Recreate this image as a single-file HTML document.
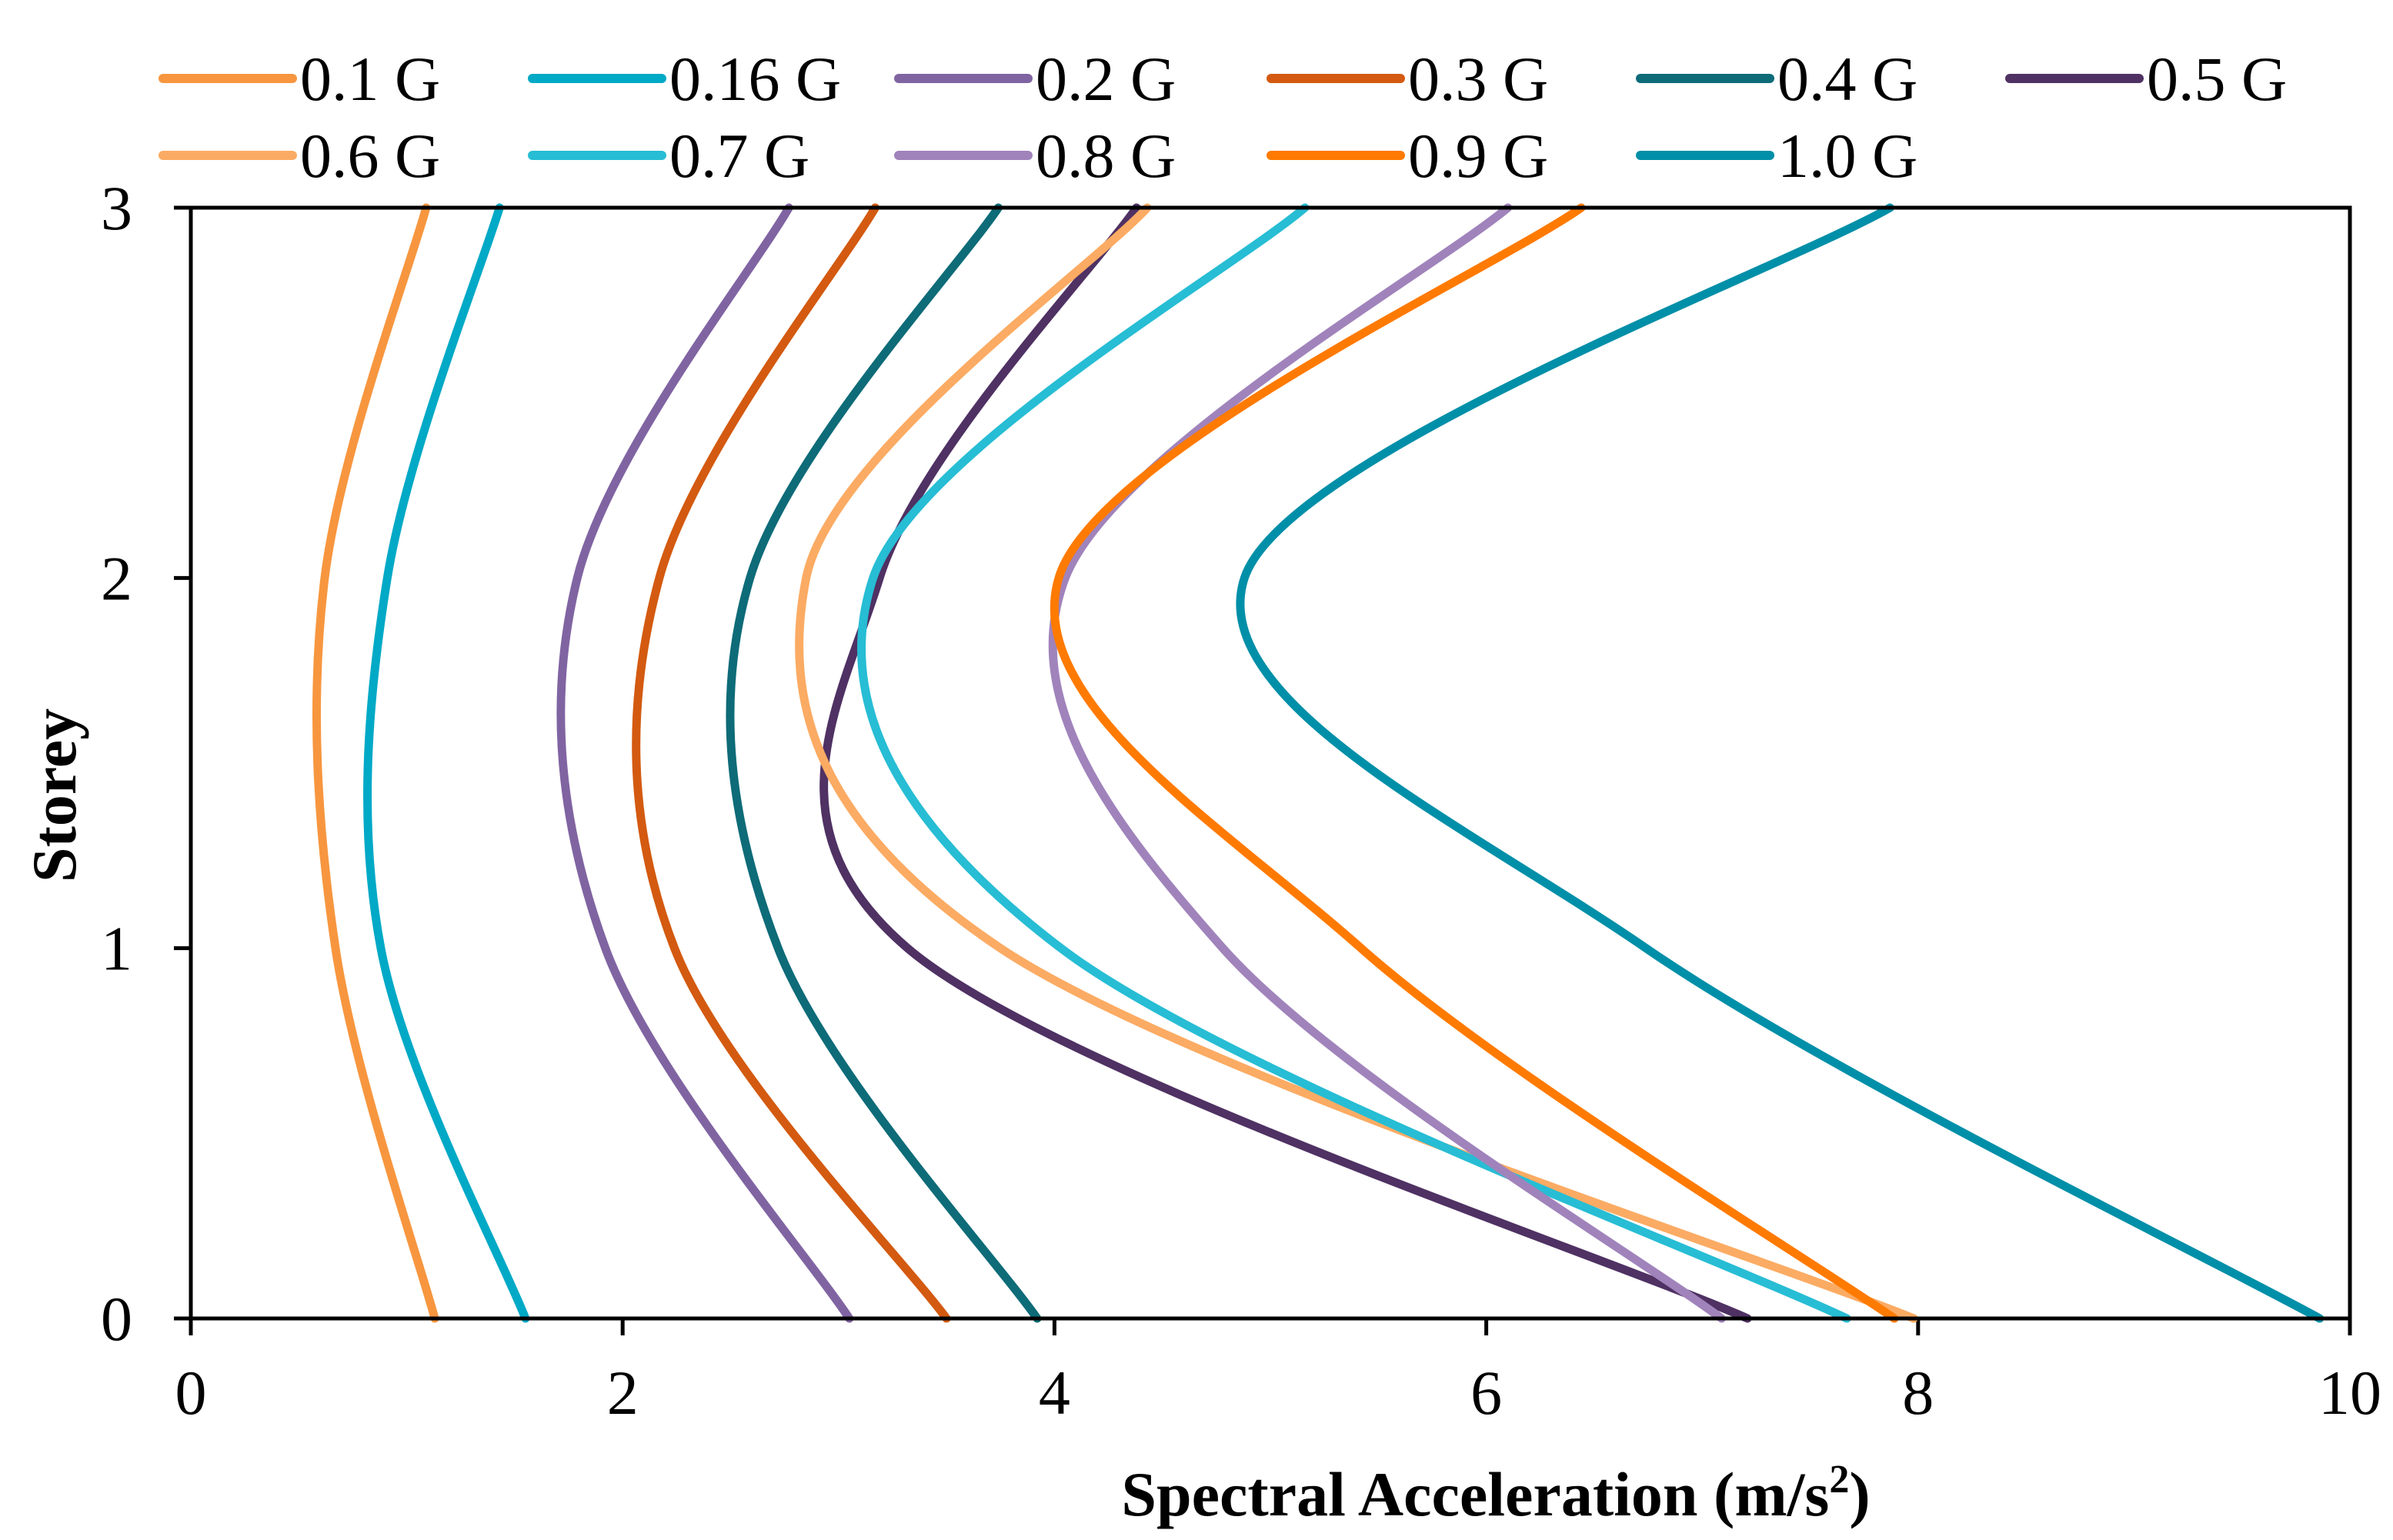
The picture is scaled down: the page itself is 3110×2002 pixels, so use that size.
<!DOCTYPE html>
<html><head><meta charset="utf-8">
<style>
html,body{margin:0;padding:0;background:#fff;}
svg{display:block;font-family:"Liberation Serif",serif;}
</style></head>
<body>
<svg id="chart" width="3110" height="2002" viewBox="0 0 3110 2002" xmlns="http://www.w3.org/2000/svg">
<g id="legend"></g>
<g id="grid"></g>
<g id="series"></g>
<rect x="248" y="270" width="2806" height="1444" fill="none" stroke="#000" stroke-width="5"/>
<text x="1944" y="1970" font-size="82" font-weight="bold" text-anchor="middle">Spectral Acceleration (m/s<tspan font-size="52" dy="-30">2</tspan><tspan dy="30">)</tspan></text>
<text transform="translate(98,1034) rotate(-90)" font-size="82" font-weight="bold" text-anchor="middle">Storey</text>
</svg>
<script>
const storeys = [0, 1, 2, 3];
const seriesNames = ["0.1 G","0.16 G","0.2 G","0.3 G","0.4 G","0.5 G","0.6 G","0.7 G","0.8 G","0.9 G","1.0 G"];
const s01 = [1.13, 0.67, 0.62, 1.09];
const s016 = [1.55, 0.88, 0.91, 1.43];
const s02 = [3.05, 1.92, 1.79, 2.77];
const s03 = [3.50, 2.24, 2.17, 3.17];
const s04 = [3.92, 2.72, 2.59, 3.74];
const s05 = [7.21, 3.32, 3.19, 4.38];
const s06 = [7.98, 3.75, 2.85, 4.43];
const s07 = [7.67, 4.03, 3.16, 5.16];
const s08 = [7.09, 4.78, 4.05, 6.10];
const s09 = [7.89, 5.42, 4.02, 6.44];
const s10 = [9.86, 6.74, 4.88, 7.87];
const seriesValues = [s01,s016,s02,s03,s04,s05,s06,s07,s08,s09,s10];
const seriesColors = ["#f7963f","#00a9c6","#8064a2","#d35a10","#0e6b78","#4f3163","#fbab63","#27bdd4","#a083bb","#ff7a00","#008fa8"];
const xTicks = [0,2,4,6,8,10];
const yTicks = [0,1,2,3];

const NS = "http://www.w3.org/2000/svg";
const X0 = 248, X1 = 3054, Y0 = 1714, Y1 = 270;
function xs(v){ return X0 + (v/10)*(X1-X0); }
function ys(v){ return Y0 - (v/3)*(Y0-Y1); }
function mk(tag, attrs, parent){
  const e = document.createElementNS(NS, tag);
  for (const k in attrs) e.setAttribute(k, attrs[k]);
  parent.appendChild(e);
  return e;
}
const grid = document.getElementById('grid');
xTicks.forEach(t => {
  const l = mk('line', {x1:xs(t), x2:xs(t), y1:Y0, y2:Y0+22, stroke:'#000','stroke-width':5}, grid);
  
  
  const tx = mk('text', {x:xs(t), y:1838, 'font-size':82, 'text-anchor':'middle'}, grid);
  tx.textContent = t;
  
  
});
yTicks.forEach(t => {
  const l = mk('line', {x1:X0-22, x2:X0, y1:ys(t), y2:ys(t), stroke:'#000','stroke-width':5}, grid);
  
  
  const tx = mk('text', {x:172, y:ys(t)+28, 'font-size':82, 'text-anchor':'end'}, grid);
  tx.textContent = t;
  
  
});
const sg = document.getElementById('series');
seriesValues.forEach((vals, i) => {
  const P = vals.map((v, j) => [xs(v), ys(storeys[j])]);
  let d = `M${P[0][0]},${P[0][1]}`;
  for (let j = 0; j < P.length-1; j++) {
    const p0 = P[Math.max(0,j-1)], p1 = P[j], p2 = P[j+1], p3 = P[Math.min(P.length-1,j+2)];
    const c1 = [p1[0]+(p2[0]-p0[0])/6, p1[1]+(p2[1]-p0[1])/6];
    const c2 = [p2[0]-(p3[0]-p1[0])/6, p2[1]-(p3[1]-p1[1])/6];
    d += ` C${c1[0]},${c1[1]} ${c2[0]},${c2[1]} ${p2[0]},${p2[1]}`;
  }
  const path = mk('path', {d:d, fill:'none', stroke:seriesColors[i], 'stroke-width':11, 'stroke-linecap':'round'}, sg);
  
  
});
const lg = document.getElementById('legend');
const legX = [212, 692, 1168, 1652, 2132, 2612];
seriesNames.forEach((n, i) => {
  const col = i % 6, row = Math.floor(i/6);
  const x = legX[col], y = row === 0 ? 102 : 202;
  const g = mk('g', {}, lg);
  
  
  mk('line', {x1:x, x2:x+168, y1:y, y2:y, stroke:seriesColors[i], 'stroke-width':12, 'stroke-linecap':'round'}, g);
  const t = mk('text', {x:x+178, y:y+28, 'font-size':82}, g);
  t.textContent = n;
});
</script>
</body></html>
